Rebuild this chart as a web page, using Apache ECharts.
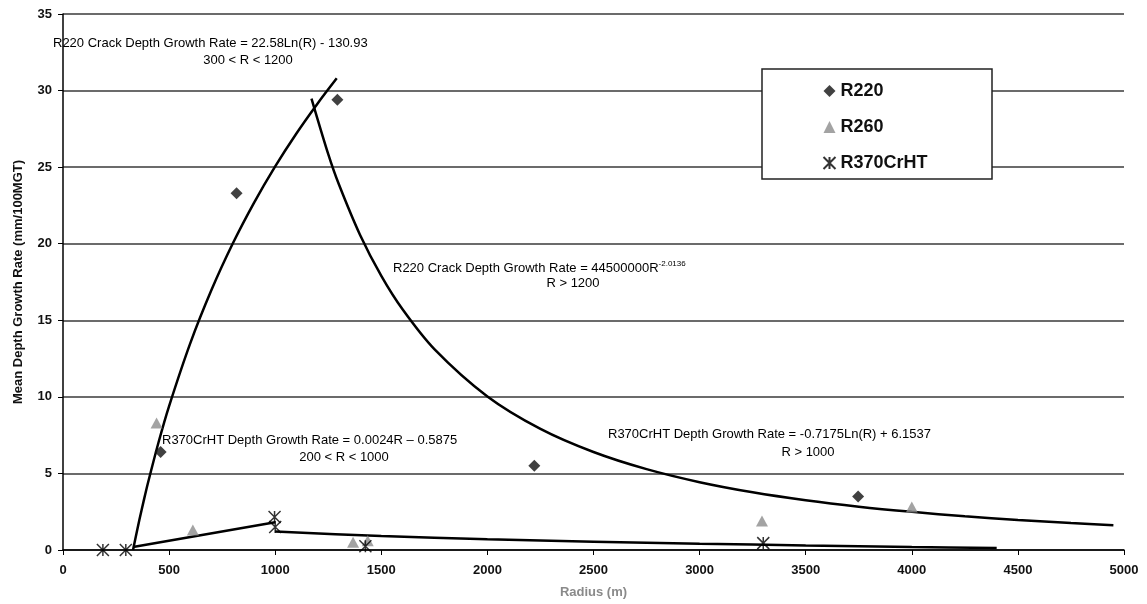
<!DOCTYPE html>
<html>
<head>
<meta charset="utf-8">
<script src="https://cdn.jsdelivr.net/npm/echarts@6/dist/echarts.min.js"></script>
<style>
html,body{margin:0;padding:0;background:#fff;}
#chart{width:1147px;height:604px;}
</style>
</head>
<body>
<div id="chart"></div>
<script>
var FONT = '"Liberation Sans", Arial, sans-serif';

// measured points [radius (m), rate (mm/100MGT)]
var r220Points = [[460, 6.4], [818, 23.3], [1293, 29.4], [2221, 5.5], [3747, 3.5]];
var r260Points = [[441, 8.3], [612, 1.3], [1367, 0.5], [1436, 0.6], [3294, 1.9], [4000, 2.8]];
var r370Points = [[188, 0], [296, 0], [997, 2.15], [1000, 1.5], [1425, 0.25], [3300, 0.45]];

// trend curves
var r220LogCurve = [[330, 0.0], [340, 0.67], [360, 1.97], [380, 3.19], [400, 4.36], [450, 7.02], [500, 9.40],
	[600, 13.51], [700, 16.99], [800, 20.01], [900, 22.67], [1000, 25.05], [1100, 27.20], [1200, 29.16], [1290, 30.80]];
var r220PowCurve = [[1171, 29.48], [1250, 25.85], [1300, 23.88], [1400, 20.57], [1500, 17.90], [1600, 15.72],
	[1750, 13.12], [2000, 10.03], [2250, 7.91], [2500, 6.40], [2750, 5.28], [3000, 4.43], [3250, 3.77],
	[3500, 3.25], [3750, 2.83], [4000, 2.49], [4250, 2.20], [4500, 1.96], [4750, 1.76], [4950, 1.62]];
var r370LinCurve = [[330, 0.2], [1000, 1.81]];
var r370LogCurve = [[1000, 1.20], [1500, 0.91], [2000, 0.70], [2500, 0.54], [3000, 0.41], [3500, 0.30],
	[4000, 0.20], [4400, 0.13]];

var legendNames = ['R220', 'R260', 'R370CrHT'];

function trendSeries(name, pts){
	return {
		name: name,
		type: 'line',
		data: pts,
		smooth: 0.3,
		symbol: 'none',
		silent: true,
		z: 3,
		lineStyle: {color: '#000', width: 2.5}
	};
}

function annot(x, y, text, align){
	return {
		type: 'text',
		x: x,
		y: y,
		z: 20,
		style: {
			text: text,
			fill: '#000',
			font: '13px ' + FONT,
			align: align,
			verticalAlign: 'middle'
		}
	};
}

var myChart = echarts.init(document.getElementById('chart'));
myChart.setOption({
	animation: false,
	backgroundColor: '#fff',
	textStyle: {fontFamily: FONT},
	grid: {left: 63, right: 23, top: 14, bottom: 54},
	legend: {
		data: legendNames,
		orient: 'vertical',
		left: 816,
		top: 77,
		itemGap: 18,
		itemWidth: 12,
		itemHeight: 12,
		z: 30,
		textStyle: {fontSize: 18, fontWeight: 'bold', color: '#111', fontFamily: FONT}
	},
	xAxis: {
		type: 'value',
		min: 0,
		max: 5000,
		interval: 500,
		name: 'Radius (m)',
		nameLocation: 'middle',
		nameGap: 36,
		nameTextStyle: {fontSize: 13, fontWeight: 'bold', color: '#8a8a8a', fontFamily: FONT},
		axisLine: {show: true, lineStyle: {color: '#000', width: 1.5}},
		axisTick: {show: true, length: 5, lineStyle: {color: '#000'}},
		axisLabel: {fontSize: 13, fontWeight: 'bold', color: '#111', margin: 14, formatter: function(v){ return String(v); }},
		splitLine: {show: false}
	},
	yAxis: {
		type: 'value',
		min: 0,
		max: 35,
		interval: 5,
		name: 'Mean Depth Growth Rate (mm/100MGT)',
		nameLocation: 'middle',
		nameGap: 38,
		nameTextStyle: {fontSize: 13, fontWeight: 'bold', color: '#111', fontFamily: FONT},
		axisLine: {show: true, lineStyle: {color: '#000', width: 1.5}},
		axisTick: {show: true, length: 5, lineStyle: {color: '#000'}},
		axisLabel: {fontSize: 13, fontWeight: 'bold', color: '#111', margin: 11},
		splitLine: {show: true, lineStyle: {color: '#3a3a3a', width: 1.5}}
	},
	graphic: [
		{
			type: 'rect',
			shape: {x: 762, y: 69, width: 230, height: 110},
			z: 25,
			style: {fill: '#fff', stroke: '#222', lineWidth: 1.5}
		},
		annot(53, 43, 'R220 Crack Depth Growth Rate = 22.58Ln(R) - 130.93', 'left'),
		annot(248, 60, '300 < R < 1200', 'center'),
		{
			type: 'text',
			x: 393,
			y: 268,
			z: 20,
			style: {
				text: '{a|R220 Crack Depth Growth Rate = 44500000R}{s|-2.0136}',
				align: 'left',
				verticalAlign: 'middle',
				rich: {
					a: {fontSize: 13, fontFamily: FONT, color: '#000'},
					s: {fontSize: 8, fontFamily: FONT, color: '#000', verticalAlign: 'top', padding: [0, 0, 8, 0]}
				}
			}
		},
		annot(573, 283, 'R > 1200', 'center'),
		annot(162, 440, 'R370CrHT Depth Growth Rate = 0.0024R \u2013 0.5875', 'left'),
		annot(344, 457, '200 < R < 1000', 'center'),
		annot(608, 434, 'R370CrHT Depth Growth Rate = -0.7175Ln(R) + 6.1537', 'left'),
		annot(808, 452, 'R > 1000', 'center')
	],
	series: [
		trendSeries('r220log', r220LogCurve),
		trendSeries('r220pow', r220PowCurve),
		trendSeries('r370lin', r370LinCurve),
		trendSeries('r370log', r370LogCurve),
		{
			name: 'R220',
			type: 'scatter',
			data: r220Points,
			symbol: 'diamond',
			symbolSize: 12,
			z: 5,
			itemStyle: {color: '#111'}
		},
		{
			name: 'R260',
			type: 'scatter',
			data: r260Points,
			symbol: 'triangle',
			symbolSize: [12, 11],
			z: 5,
			itemStyle: {color: '#8c8c8c'}
		},
		{
			name: 'R370CrHT',
			type: 'scatter',
			data: r370Points,
			symbol: 'path://M0,0L10,10M10,0L0,10M5,0L5,10',
			symbolSize: 12,
			z: 5,
			itemStyle: {color: 'none', borderColor: '#000', borderWidth: 1.5}
		}
	]
});
</script>
</body>
</html>
